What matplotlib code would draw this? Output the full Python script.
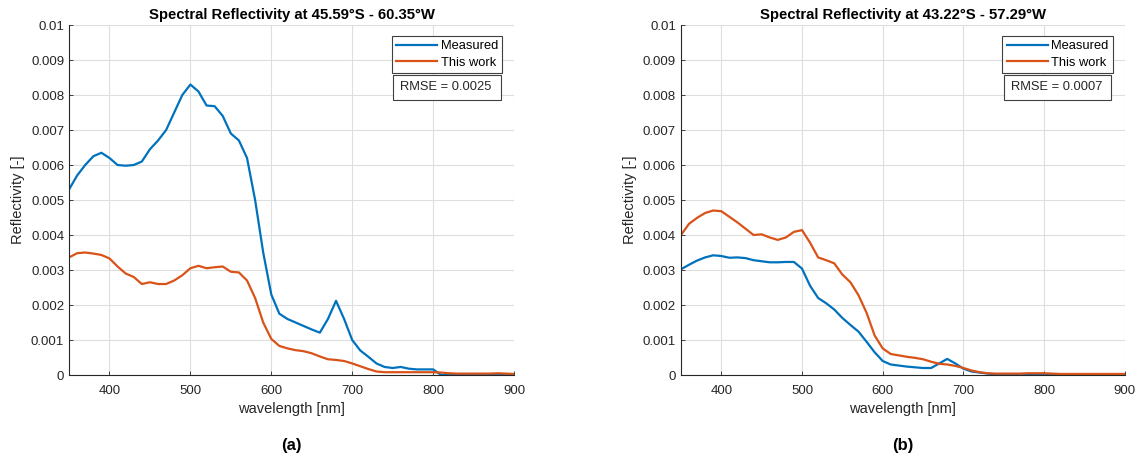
import matplotlib.pyplot as plt
import numpy as np
from matplotlib.patches import Rectangle
from matplotlib.ticker import FormatStrFormatter, MultipleLocator

plt.rcParams['font.family'] = ['Liberation Sans', 'DejaVu Sans']

wavelength = np.arange(350, 901, 10)

# site (a): 45.59°S - 60.35°W
measured_a = [0.0053, 0.0057, 0.0060, 0.00625, 0.00635, 0.0062, 0.0060, 0.00598, 0.0060, 0.0061,
              0.00645, 0.0067, 0.0070, 0.0075, 0.0080, 0.0083, 0.0081, 0.0077, 0.00768, 0.0074,
              0.0069, 0.0067, 0.0062, 0.0050, 0.0035, 0.0023, 0.00175, 0.0016, 0.0015, 0.0014,
              0.0013, 0.00121, 0.0016, 0.00212, 0.0016, 0.0010, 0.0007, 0.00052, 0.00033, 0.00023,
              0.0002, 0.00023, 0.00018, 0.00016, 0.00016, 0.00016, 0.0, 0.0, 0.0, 0.0,
              0.0, 0.0, 0.0, 0.0, 0.0, 0.0]
model_a = [0.00336, 0.00348, 0.0035, 0.00347, 0.00343, 0.00333, 0.0031, 0.0029, 0.0028, 0.0026,
           0.00265, 0.0026, 0.0026, 0.0027, 0.00285, 0.00305, 0.00312, 0.00305, 0.00308, 0.0031,
           0.00295, 0.00293, 0.0027, 0.0022, 0.0015, 0.00103, 0.00083, 0.00076, 0.00071, 0.00068,
           0.00062, 0.00053, 0.00045, 0.00043, 0.0004, 0.00033, 0.00025, 0.00017, 0.0001, 0.00008,
           0.00008, 0.00008, 0.00008, 0.00008, 0.00008, 0.00008, 0.00007, 0.00005, 0.00004, 0.00004,
           0.00004, 0.00004, 0.00004, 0.00005, 0.00004, 0.00003]

# site (b): 43.22°S - 57.29°W
measured_b = [0.00302, 0.00315, 0.00327, 0.00336, 0.00342, 0.0034, 0.00335, 0.00336, 0.00334, 0.00328,
              0.00325, 0.00322, 0.00322, 0.00323, 0.00323, 0.00304, 0.00255, 0.0022, 0.00205, 0.00187,
              0.00163, 0.00143, 0.00124, 0.00095, 0.00065, 0.0004, 0.0003, 0.00027, 0.00024, 0.00022,
              0.0002, 0.0002, 0.00033, 0.00046, 0.00033, 0.00018, 0.0001, 0.00007, 0.00004, 0.00002,
              0.00001, 0.00001, -0.00001, 0.0, 0.00002, 0.00003, 0.0, 0.0, 0.0, 0.0,
              0.0, 0.0, 0.0, 0.0, 0.0, 0.0]
model_b = [0.0040, 0.00432, 0.00449, 0.00463, 0.0047, 0.00468, 0.00452, 0.00436, 0.00418, 0.0040,
           0.00402, 0.00393, 0.00386, 0.00393, 0.00409, 0.00414, 0.00378, 0.00336, 0.00328, 0.00319,
           0.00287, 0.00265, 0.00228, 0.00178, 0.00113, 0.00076, 0.0006, 0.00056, 0.00052, 0.00049,
           0.00045, 0.00038, 0.00032, 0.0003, 0.00026, 0.0002, 0.00013, 0.00008, 0.00005, 0.00004,
           0.00004, 0.00004, 0.00004, 0.00005, 0.00005, 0.00005, 0.00004, 0.00003, 0.00003, 0.00003,
           0.00003, 0.00003, 0.00003, 0.00003, 0.00003, 0.00003]

titles = ['Spectral Reflectivity at 45.59°S - 60.35°W', 'Spectral Reflectivity at 43.22°S - 57.29°W']
rmse = [0.0025, 0.0007]
panel_labels = ['(a)', '(b)']

blue, orange = '#0072BD', '#D95319'
txt = '#262626'

fig = plt.figure(figsize=(11.41, 4.59), dpi=100)
axes = [fig.add_axes([0.0605, 0.183, 0.390, 0.7625]),
        fig.add_axes([0.5968, 0.183, 0.389, 0.7625])]

series = [(measured_a, model_a), (measured_b, model_b)]
for ax, (meas, mod), title, err, lab in zip(axes, series, titles, rmse, panel_labels):
    ax.plot(wavelength, meas, color=blue, lw=1.6, label='Measured')
    ax.plot(wavelength, mod, color=orange, lw=1.6, label='This work')
    ax.set_xlim(350, 900)
    ax.set_ylim(0, 0.01)
    ax.xaxis.set_major_locator(MultipleLocator(100))
    ax.yaxis.set_major_locator(MultipleLocator(0.001))
    ax.yaxis.set_major_formatter(FormatStrFormatter('%g'))
    ax.grid(True, color='#dedede', lw=0.8)
    ax.set_axisbelow(True)
    for s in ('top', 'right'):
        ax.spines[s].set_visible(False)
    for s in ('left', 'bottom'):
        ax.spines[s].set_color(txt)
        ax.spines[s].set_linewidth(0.8)
    ax.tick_params(direction='in', length=3, width=0.6, colors=txt, labelsize=9.5)
    ax.tick_params(axis='x', pad=7.5)
    ax.set_title(title, fontsize=10.7, fontweight='bold', pad=4)
    ax.set_xlabel('wavelength [nm]', fontsize=10.5, color=txt, labelpad=3)
    ax.set_ylabel('Reflectivity [-]', fontsize=10.5, color=txt, labelpad=4)
    leg = ax.legend(loc='upper right', bbox_to_anchor=(0.974, 0.969), fontsize=9.3,
                    handlelength=3.2, handletextpad=0.25, borderpad=0.35, labelspacing=0.34,
                    fancybox=False, framealpha=1, edgecolor='#404040', borderaxespad=0)
    leg.get_frame().set_linewidth(0.8)
    # RMSE annotation box under the legend
    ax.add_patch(Rectangle((0.728, 0.786), 0.242, 0.072, transform=ax.transAxes,
                           fc='white', ec='#404040', lw=0.8, zorder=5))
    ax.text(0.744, 0.822, f'RMSE = {err}', transform=ax.transAxes, fontsize=9.3, color=txt,
            va='center', ha='left', zorder=6)
    ax.text(0.5, -0.2, lab, transform=ax.transAxes, ha='center', va='center',
            fontsize=12, fontweight='bold')

fig.savefig('out.png', dpi=100)
